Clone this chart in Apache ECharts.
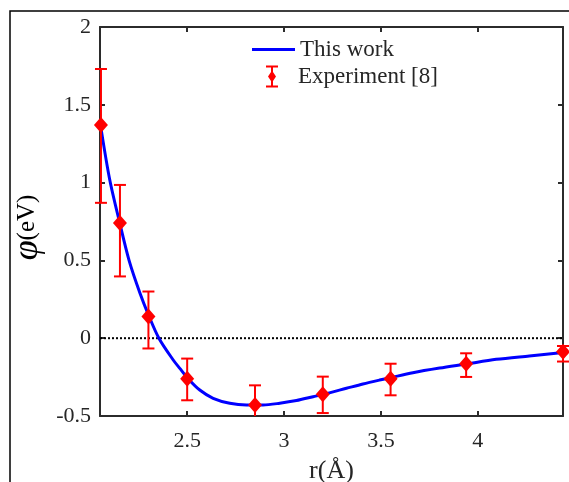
<!DOCTYPE html>
<html><head><meta charset="utf-8">
<script src="https://cdn.jsdelivr.net/npm/echarts@6/dist/echarts.min.js"></script>
<style>html,body{margin:0;padding:0;background:#fff}#c{width:569px;height:482px}</style>
</head><body><div id="c"></div><script>
// ---- data ----
const curveR = [2.055, 2.10, 2.15, 2.20, 2.256, 2.30, 2.354, 2.428, 2.462, 2.505, 2.565, 2.634, 2.72, 2.806, 2.892, 2.978, 3.064, 3.15, 3.20, 3.322, 3.407, 3.493, 3.545, 3.665, 3.803, 3.94, 4.095, 4.266, 4.44];
const curveV = [1.35, 1.02, 0.75, 0.50, 0.29, 0.15, 0.0, -0.14, -0.194, -0.26, -0.333, -0.386, -0.418, -0.429, -0.429, -0.418, -0.401, -0.376, -0.362, -0.322, -0.294, -0.269, -0.255, -0.222, -0.192, -0.166, -0.136, -0.114, -0.092];
const expR = [2.055, 2.153, 2.30, 2.50, 2.85, 3.20, 3.55, 3.94, 4.44];
const expV = [1.37, 0.74, 0.14, -0.26, -0.43, -0.36, -0.26, -0.165, -0.087];
const expLow = [0.87, 0.397, -0.066, -0.399, -0.55, -0.481, -0.367, -0.249, -0.15];
const expHigh = [1.73, 0.985, 0.30, -0.131, -0.303, -0.247, -0.164, -0.097, -0.05];
const xTicks = [2.5, 3, 3.5, 4];
const xRange = [2.05, 4.44];
const yRange = [-0.5, 2];
const zeroLineV = [0, 0];

const FONT = 'Liberation Serif';
const AX = '#2b2b2b';
const TXT = '#262626';
const chart = echarts.init(document.getElementById('c'));

const axisLineStyle = {show: true, onZero: false, lineStyle: {color: AX, width: 2}};
const tickStyle = {show: true, inside: true, length: 5, lineStyle: {color: AX, width: 2}};
const labelStyle = {fontSize: 22, fontFamily: FONT, color: TXT};

const legendIconErr = 'path://M0,0 L12,0 L12,2 L0,2 Z M5,0 L7,0 L7,22 L5,22 Z M0,20 L12,20 L12,22 L0,22 Z M6,5 L10,11 L6,17 L2,11 Z';

chart.setOption({
  animation: false,
  backgroundColor: '#fff',
  graphic: [{
    type: 'rect', silent: true, z: -10,
    shape: {x: 10, y: 11, width: 620, height: 520},
    style: {fill: 'none', stroke: '#000', lineWidth: 1.5}
  }],
  grid: {left: 100, top: 27, width: 463, height: 389, containLabel: false, outerBoundsMode: 'none'},
  legend: [
    {data: [{name: 'This work', icon: 'rect'}], left: 252, top: 38, padding: 0, itemWidth: 43, itemHeight: 3,
     selectedMode: false, textStyle: {fontSize: 23, fontFamily: FONT, color: TXT}},
    {data: [{name: 'Experiment [8]', icon: legendIconErr, symbolKeepAspect: true}],
     left: 266, top: 65, padding: 0, itemWidth: 42, itemHeight: 22,
     selectedMode: false, textStyle: {fontSize: 23, fontFamily: FONT, color: TXT}}
  ],
  xAxis: [{
    type: 'value', min: xRange[0], max: xRange[1], position: 'bottom',
    axisLine: axisLineStyle,
    axisTick: Object.assign({customValues: xTicks}, tickStyle),
    axisLabel: Object.assign({customValues: xTicks, margin: 14}, labelStyle),
    splitLine: {show: false},
    name: 'r(Å)', nameLocation: 'middle', nameGap: 42,
    nameTextStyle: {fontSize: 26, fontFamily: FONT, color: TXT}
  }, {
    type: 'value', min: xRange[0], max: xRange[1], position: 'top',
    axisLine: axisLineStyle,
    axisTick: Object.assign({customValues: xTicks}, tickStyle),
    axisLabel: {show: false}, splitLine: {show: false}
  }],
  yAxis: [{
    type: 'value', min: yRange[0], max: yRange[1], interval: 0.5, position: 'left',
    axisLine: axisLineStyle, axisTick: tickStyle,
    axisLabel: Object.assign({margin: 9}, labelStyle),
    splitLine: {show: false},
    name: '{p|φ}{u|(eV)}', nameLocation: 'middle', nameGap: 53,
    nameTextStyle: {color: '#000', padding: [0, 0, 0, -12], rich: {
      p: {fontSize: 36, fontStyle: 'italic', fontFamily: FONT, color: '#000'},
      u: {fontSize: 25, fontFamily: FONT, color: '#000'}
    }}
  }, {
    type: 'value', min: yRange[0], max: yRange[1], interval: 0.5, position: 'right',
    axisLine: axisLineStyle, axisTick: tickStyle,
    axisLabel: {show: false}, splitLine: {show: false}
  }],
  series: [
    {
      name: 'zero', type: 'line', silent: true, symbol: 'none', z: 1,
      data: xRange.map((r, i) => [r, zeroLineV[i]]),
      lineStyle: {color: '#000', width: 2, type: [2, 2]}
    },
    {
      name: 'This work', type: 'line', symbol: 'none', smooth: 0.3, z: 2,
      data: curveR.map((r, i) => [r, curveV[i]]),
      lineStyle: {color: '#0000ff', width: 3}, itemStyle: {color: '#0000ff'}
    },
    {
      name: 'Experiment [8]', type: 'custom', z: 3,
      itemStyle: {color: '#ff0000'},
      data: expR.map((r, i) => [r, expLow[i], expHigh[i]]),
      encode: {x: 0, y: [1, 2]},
      renderItem: function (params, api) {
        const x = api.value(0), lo = api.value(1), hi = api.value(2);
        const loC = Math.max(lo, yRange[0]);
        const pHi = api.coord([x, hi]);
        const pLo = api.coord([x, loC]);
        const hw = 6;
        const st = {stroke: '#ff0000', lineWidth: 2, fill: 'none'};
        const ch = [
          {type: 'line', shape: {x1: pHi[0], y1: pHi[1], x2: pLo[0], y2: pLo[1]}, style: st},
          {type: 'line', shape: {x1: pHi[0] - hw, y1: pHi[1], x2: pHi[0] + hw, y2: pHi[1]}, style: st}
        ];
        if (lo >= yRange[0]) {
          ch.push({type: 'line', shape: {x1: pLo[0] - hw, y1: pLo[1], x2: pLo[0] + hw, y2: pLo[1]}, style: st});
        }
        return {type: 'group', children: ch};
      }
    },
    {
      name: 'Experiment [8]', type: 'scatter', z: 4, clip: false,
      symbol: 'diamond', symbolSize: [14, 16],
      data: expR.map((r, i) => [r, expV[i]]),
      itemStyle: {color: '#ff0000', opacity: 1}
    }
  ]
});
</script></body></html>
